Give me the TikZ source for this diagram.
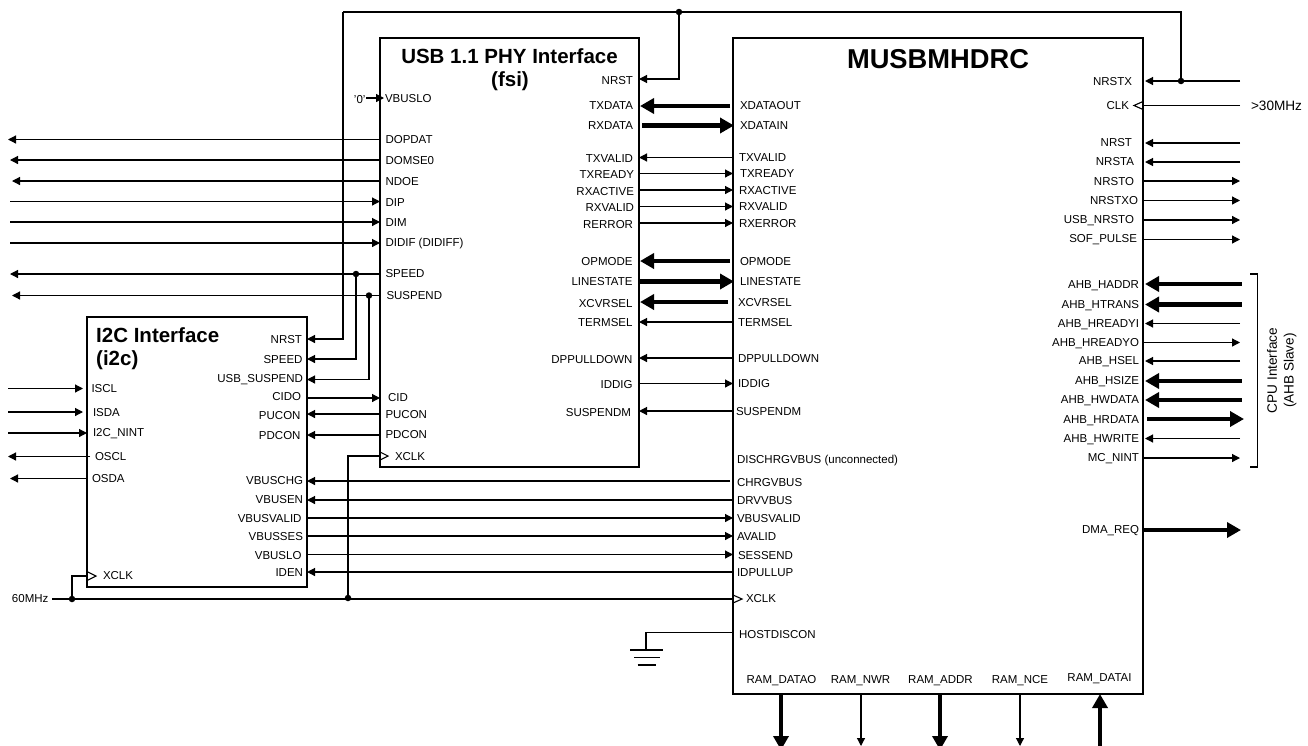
\documentclass[tikz,border=0pt]{standalone}
\usepackage{fontspec}
\setmainfont{Liberation Sans}
\usetikzlibrary{arrows.meta}
\tikzset{
  block/.style={draw=black,line width=2.6pt,fill=white,rectangle,anchor=north west,inner sep=0pt,outer sep=0pt},
  sig/.style={draw=black,line width=1.2pt,-{Triangle[length=8pt,width=8pt]}},
  bus/.style={draw=black,line width=4.4pt,-{Triangle[length=14pt,width=15pt]}},
  plain/.style={draw=black,line width=1.2pt},
  clk/.style={draw=black,line width=1.1pt},
  lab/.style={font=\fontsize{11.5pt}{12pt}\selectfont,inner sep=0pt,outer sep=0pt,text=black,yshift=-0.7pt},
  labw/.style={lab,anchor=west},
  labe/.style={lab,anchor=east},
  labbig/.style={inner sep=0pt,outer sep=0pt,text=black,font=\fontsize{13.6pt}{15pt}\selectfont},
  ttl/.style={font=\bfseries\fontsize{20.5pt}{24pt}\selectfont,inner sep=0pt,text=black},
  dot/.style={circle,fill=black,draw=none,minimum size=6.5pt,inner sep=0pt},
}
\begin{document}
\begin{tikzpicture}[x=1pt,y=-1pt]
\useasboundingbox (0,0) rectangle (1308,745);
\clip (0,0) rectangle (1308,745);
\fill[white] (0,0) rectangle (1308,745);

% blocks
\node[block,minimum width=259pt,minimum height=429pt] (usb) at (380,38) {};
\node[block,minimum width=410pt,minimum height=656pt] (musb) at (733,38) {};
\node[block,minimum width=220pt,minimum height=270pt] (i2c) at (87,317) {};

% titles
\node[ttl,anchor=center] (usbt1) at (509.5,56) {USB 1.1 PHY Interface};
\node[ttl,anchor=center] (usbt2) at (510,81) {(fsi)};
\node[ttl,anchor=west] (i2ct1) at (96,335) {I2C Interface};
\node[ttl,anchor=west] (i2ct2) at (96,360.5) {(i2c)};
\node[ttl,anchor=center,font=\bfseries\fontsize{27.3pt}{30pt}\selectfont] (musbt) at (938,59) {MUSBMHDRC};

% junctions and reset / clock nets
\coordinate (rstL) at (343,12);
\coordinate (rstR) at (1181,12);
\node[dot] (j1) at (679,12) {};
\node[dot] (j2) at (1181,81) {};
\node[dot] (j3) at (356,274) {};
\node[dot] (j4) at (369,295.5) {};
\node[dot] (j5) at (72,599) {};
\node[dot] (j6) at (348,598) {};

\draw[sig] (j3.center) |- (i2c.east |- 0,359);
\draw[sig] (j4.center) |- (i2c.east |- 0,379.5);
\draw[sig] (rstL) -- (343,339) -- (i2c.east |- 0,339);
\draw[plain] (rstL) -- (rstR) -- (j2.center);
\draw[sig] (j1.center) |- (usb.east |- 0,79);

% left side: USB PHY to the outside
\foreach \n/\y/\xe in {dop/139.5/8,dom/160/10,ndo/181/12,spd/274/10,sus/295.5/12}{
  \coordinate (\n E) at (\xe,\y);
  \draw[sig] (usb.west |- 0,\y) -- (\n E);
}
\foreach \n/\y/\xe in {dip/201.5/10,dim/222/10,dif/243/10}{
  \coordinate (\n E) at (\xe,\y);
  \draw[sig] (\n E) -- (usb.west |- 0,\y);
}
\coordinate (zero) at (366,98);
\draw[sig] (zero) -- ([xshift=4pt]usb.west |- 0,98);
\node[lab,anchor=east] (zerot) at (365.5,98.5) {'0'};

% I2C left side
\foreach \n/\y/\xb in {scl/388.5/83,sda/412/83,nin/433/87}{
  \coordinate (\n E) at (8,\y);
  \coordinate (\n F) at (\xb,\y);
  \draw[sig] (\n E) -- (\n F);
}
\foreach \n/\y/\xe/\xs in {osc/456.5/8/90,osd/478.5/10/87}{
  \coordinate (\n E) at (\xe,\y);
  \coordinate (\n F) at (\xs,\y);
  \draw[sig] (\n F) -- (\n E);
}

% I2C <-> USB
\draw[sig] (i2c.east |- 0,398) -- (usb.west |- 0,398);
\draw[sig] (usb.west |- 0,414) -- (i2c.east |- 0,414);
\draw[sig] (usb.west |- 0,435) -- (i2c.east |- 0,435);

% I2C <-> MUSB
\draw[sig] ([xshift=-3pt]musb.west |- 0,481) -- (i2c.east |- 0,481);
\draw[sig] (musb.west |- 0,500) -- (i2c.east |- 0,500);
\draw[sig] (i2c.east |- 0,518) -- (musb.west |- 0,518);
\draw[sig] (i2c.east |- 0,536) -- (musb.west |- 0,536);
\draw[sig] (i2c.east |- 0,554.5) -- (musb.west |- 0,554.5);
\draw[sig] (musb.west |- 0,572) -- (i2c.east |- 0,572);

% clock net
\coordinate (c60) at (52,599);
\draw[plain] (c60) -- (musb.west |- 0,599);
\draw[plain] (j5.center) |- (i2c.west |- 0,576);
\draw[plain] (j6.center) |- (usb.west |- 0,456);
\draw[clk] (i2c.west |- 0,571.5) -- ++(9,4.5) -- ++(-9,4.5);
\draw[clk] (usb.west |- 0,452) -- ++(8,4) -- ++(-8,4);
\draw[clk] (musb.west |- 0,595) -- ++(9,4) -- ++(-9,4);
\draw[clk] (musb.east |- 0,101.5) -- ++(-9,4) -- ++(9,4);

% USB <-> MUSB
\foreach \y in {223,206.5,190,173.5,383.5}{
  \draw[sig] (usb.east |- 0,\y) -- (musb.west |- 0,\y);
}
\foreach \y in {157.5,322,358,411}{
  \draw[sig] (musb.west |- 0,\y) -- (usb.east |- 0,\y);
}
\foreach \y/\s in {106/-3,261/-3,302/-5}{
  \draw[bus] ([xshift=\s pt]musb.west |- 0,\y) -- ([xshift=1pt]usb.east |- 0,\y);
}
\foreach \y/\s in {125.5/3,281.5/0}{
  \draw[bus] ([xshift=\s pt]usb.east |- 0,\y) -- ([xshift=1pt]musb.west |- 0,\y);
}

% MUSB right side
\foreach \n/\y in {rsx/81,rst/143,rsa/162,hri/323.5,hse/361,hwr/438.5}{
  \coordinate (\n E) at (1240,\y);
  \draw[sig] (\n E) -- ([xshift=2pt]musb.east |- 0,\y);
}
\coordinate (clkE) at (1240,105.5);
\draw[plain] (clkE) -- (musb.east |- 0,105.5);
\foreach \n/\y in {rso/181,rsx2/200.5,usn/220,sof/239.5,hro/342.5,nin2/458}{
  \coordinate (\n E) at (1240,\y);
  \draw[sig] (musb.east |- 0,\y) -- (\n E);
}
\foreach \n/\y in {had/284,htr/304.5,hsz/381,hwd/400}{
  \coordinate (\n E) at (1241.5,\y);
  \draw[bus] (\n E) -- ([xshift=2pt]musb.east |- 0,\y);
}
\coordinate (hrdE) at (1244,419);
\draw[bus] ([xshift=4pt]musb.east |- 0,419) -- (hrdE);
\coordinate (dmaE) at (1241,530);
\draw[bus] (musb.east |- 0,530) -- (dmaE);

% MUSB bottom
\foreach \n/\x in {rdo/781,rad/940}{
  \coordinate (\n E) at (\x,750);
  \draw[bus] (musb.south -| \x,0) -- (\n E);
}
\foreach \n/\x in {nwr/861,nce/1020}{
  \coordinate (\n E) at (\x,746);
  \draw[sig] (musb.south -| \x,0) -- (\n E);
}
\coordinate (rdiE) at (1100,746);
\draw[bus] (rdiE) -- (musb.south -| 1100,0);

% ground
\coordinate (gnd) at (646,650);
\draw[plain] (musb.west |- 0,632.5) -| (gnd);
\draw[plain] (630,650) -- (662.5,650);
\draw[plain] (634,657.5) -- (660,657.5);
\draw[plain] (637.5,665) -- (656,665);

% bracket
\draw[plain] (1250,274) -- (1257.5,274) -- (1257.5,467) -- (1250,467);
\node[labbig,rotate=90] (cpu1) at (1272,370.5) {CPU Interface};
\node[labbig,rotate=90] (cpu2) at (1290,370.5) {(AHB Slave)};

% USB left labels
\foreach \t/\x/\y [count=\i] in {VBUSLO/385/98,DOPDAT/385.5/139,DOMSE0/385.5/160,NDOE/385.5/181,DIP/385.5/201.5,DIM/385.5/222,DIDIF (DIDIFF)/385.5/243,SPEED/385.5/273,SUSPEND/386.5/295,CID/388/397,PUCON/385.5/414,PDCON/385.5/434,XCLK/395/456}{
  \node[labw] (ul\i) at (\x,\y) {\t};
}
% USB right labels
\foreach \t/\x/\y [count=\i] in {NRST/633/80,TXDATA/633/105,RXDATA/633/125,TXVALID/633/158,TXREADY/634/174,RXACTIVE/634/190.5,RXVALID/634/207,RERROR/633/224,OPMODE/632.5/261,LINESTATE/632.5/281,XCVRSEL/632.5/303,TERMSEL/632.5/322,DPPULLDOWN/632.5/359,IDDIG/632.5/384,SUSPENDM/631/412}{
  \node[labe] (ur\i) at (\x,\y) {\t};
}
% MUSB left labels
\foreach \t/\x/\y [count=\i] in {XDATAOUT/740/105,XDATAIN/740/125,TXVALID/739/157,TXREADY/740/173,RXACTIVE/739/190,RXVALID/739/206,RXERROR/739/223,OPMODE/740/261,LINESTATE/740/281,XCVRSEL/738/302,TERMSEL/738/322,DPPULLDOWN/738/358,IDDIG/738/383,SUSPENDM/736/411,DISCHRGVBUS (unconnected)/737/460,CHRGVBUS/737/482,DRVVBUS/737/500,VBUSVALID/737/518,AVALID/737/536,SESSEND/738/555,IDPULLUP/737/572,XCLK/746/598,HOSTDISCON/739/634}{
  \node[labw] (ml\i) at (\x,\y) {\t};
}
% MUSB right labels
\foreach \t/\x/\y [count=\i] in {NRSTX/1132/81,CLK/1129/105,NRST/1132/142,NRSTA/1134/161,NRSTO/1134/181,NRSTXO/1138/200,USB\_NRSTO/1134/220,SOF\_PULSE/1137/239,AHB\_HADDR/1139/284.5,AHB\_HTRANS/1139/304.5,AHB\_HREADYI/1139/323.5,AHB\_HREADYO/1139/342.5,AHB\_HSEL/1139/361,AHB\_HSIZE/1139/381,AHB\_HWDATA/1139/400,AHB\_HRDATA/1139/419.5,AHB\_HWRITE/1139/438.5,MC\_NINT/1139/458,DMA\_REQ/1139/530}{
  \node[labe] (mr\i) at (\x,\y) {\t};
}
\node[labbig,anchor=west] (f30) at (1251,105.5) {>30MHz};
% MUSB bottom labels
\foreach \t/\x/\y [count=\i] in {RAM\_DATAO/781.5/680,RAM\_NWR/860.5/680,RAM\_ADDR/940.5/680,RAM\_NCE/1020/680,RAM\_DATAI/1099.5/678}{
  \node[lab,anchor=center] (mb\i) at (\x,\y) {\t};
}
% I2C right labels
\foreach \t/\x/\y [count=\i] in {NRST/302/339,SPEED/302.5/359,USB\_SUSPEND/303/379,CIDO/301/396,PUCON/300.5/415,PDCON/300.5/435,VBUSCHG/303/480,VBUSEN/303/499,VBUSVALID/301.5/517.5,VBUSSES/303/536,VBUSLO/301.5/555,IDEN/303/572}{
  \node[labe] (ir\i) at (\x,\y) {\t};
}
% I2C left labels
\foreach \t/\x/\y [count=\i] in {ISCL/91.5/388,ISDA/93/412,I2C\_NINT/93/433,OSCL/95/456,OSDA/92/478,XCLK/103/575}{
  \node[labw] (il\i) at (\x,\y) {\t};
}
\node[labw] (f60) at (12,598) {60MHz};
\end{tikzpicture}
\end{document}
